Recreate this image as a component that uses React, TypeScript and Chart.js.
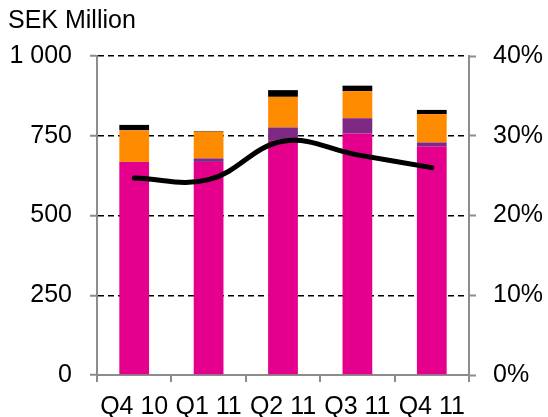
import React, { useEffect, useRef } from "react";
import { Chart, registerables } from "chart.js";

Chart.register(...registerables);

const categories = ["Q4 10", "Q1 11", "Q2 11", "Q3 11", "Q4 11"];
const pinkValues = [668, 668, 734, 757, 716];
const purpleValues = [0, 11, 42, 48, 13];
const orangeValues = [99, 84, 96, 85, 89];
const blackValues = [17, 2, 21, 17, 13];
const marginPct = [24.7, 24.5, 29.3, 27.6, 26.0];
const leftTicks = [0, 250, 500, 750, 1000];
const rightTicks = [0, 10, 20, 30, 40];
const unitLabel = "SEK Million";

const FONT = "'Liberation Sans', Arial, sans-serif";
const GRAY = "#8c8c8c";

export default function App() {
  const ref = useRef<HTMLCanvasElement | null>(null);
  useEffect(() => {
    if (!ref.current) return;
    const titlePlugin = {
      id: "unitTitle",
      afterDraw(chart: any) {
        const ctx = chart.ctx;
        ctx.save();
        ctx.font = `25px ${FONT}`;
        ctx.fillStyle = "#000";
        ctx.textAlign = "left";
        ctx.textBaseline = "alphabetic";
        ctx.fillText(unitLabel, 8, 28);
        ctx.restore();
      },
    };
    const barCommon = {
      type: "bar" as const,
      yAxisID: "y",
      order: 1,
      barPercentage: 0.4,
      categoryPercentage: 1,
      borderWidth: 0,
    };
    const chart = new Chart(ref.current, {
      type: "bar",
      data: {
        labels: categories,
        datasets: [
          {
            type: "line",
            data: marginPct,
            yAxisID: "y1",
            order: 0,
            borderColor: "#000",
            borderWidth: 5,
            tension: 0.4,
            pointRadius: 0,
            borderCapStyle: "round",
            fill: false,
          } as any,
          { ...barCommon, data: pinkValues, backgroundColor: "#E4008C" },
          { ...barCommon, data: purpleValues, backgroundColor: "#7E2A84" },
          { ...barCommon, data: orangeValues, backgroundColor: "#FF8C00" },
          { ...barCommon, data: blackValues, backgroundColor: "#000000" },
        ],
      },
      options: {
        animation: false,
        responsive: true,
        maintainAspectRatio: false,
        layout: { padding: { top: 56, left: 0, right: 0, bottom: 0 } },
        plugins: { legend: { display: false }, tooltip: { enabled: false } },
        scales: {
          x: {
            stacked: true,
            offset: true,
            grid: {
              offset: true,
              drawOnChartArea: false,
              drawTicks: true,
              tickLength: 7,
              tickColor: GRAY,
              lineWidth: 2,
            },
            border: { display: true, color: GRAY, width: 2 },
            ticks: {
              color: "#000",
              font: { family: FONT, size: 25 },
              padding: 10,
              maxRotation: 0,
              autoSkip: false,
            },
            afterFit: (s: any) => {
              s.height = 42;
            },
          },
          y: {
            stacked: true,
            position: "left",
            min: 0,
            max: 1000,
            afterBuildTicks: (s: any) => {
              s.ticks = leftTicks.map((v) => ({ value: v }));
            },
            grid: {
              color: (c: any) => (c.tick && c.tick.value === 0 ? "rgba(0,0,0,0)" : "#000"),
              lineWidth: 1.5,
              tickLength: 7,
              tickColor: GRAY,
              tickWidth: 2,
              tickBorderDash: [],
            },
            border: { display: true, color: GRAY, width: 2, dash: [6, 4] },
            ticks: {
              color: "#000",
              font: { family: FONT, size: 25 },
              padding: 18,
              callback: (v: any) => (Number(v) >= 1000 ? "1 000" : String(v)),
            },
            afterFit: (s: any) => {
              s.width = 97;
            },
          },
          y1: {
            position: "right",
            min: 0,
            max: 40,
            afterBuildTicks: (s: any) => {
              s.ticks = rightTicks.map((v) => ({ value: v }));
            },
            grid: {
              drawOnChartArea: false,
              tickLength: 7,
              tickColor: GRAY,
              tickWidth: 2,
            },
            border: { display: true, color: GRAY, width: 2 },
            ticks: {
              color: "#000",
              font: { family: FONT, size: 25 },
              padding: 17,
              callback: (v: any) => `${v}%`,
            },
            afterFit: (s: any) => {
              s.width = 79;
            },
          },
        },
      } as any,
      plugins: [titlePlugin],
    });
    return () => chart.destroy();
  }, []);
  return (
    <div style={{ position: "absolute", left: 0, top: 0, width: 548, height: 417 }}>
      <canvas ref={ref} />
    </div>
  );
}
